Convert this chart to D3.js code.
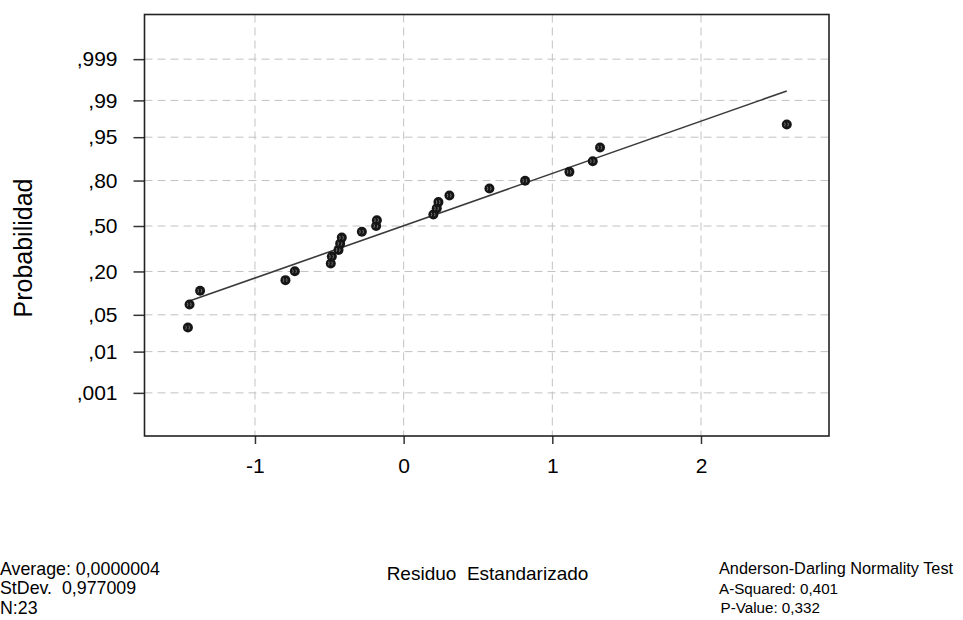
<!DOCTYPE html>
<html>
<head>
<meta charset="utf-8">
<script src="https://cdn.jsdelivr.net/npm/d3@7"></script>
<style>
  body { margin: 0; background: #fff; }
  svg { font-family: "Liberation Sans", Arial, sans-serif; }
</style>
</head>
<body>
<svg id="chart"></svg>
<script>
const SVG_WIDTH = 963;
const SVG_HEIGHT = 620;

// standardized residuals (sorted) and their plotted probabilities
const residuals = [-1.451, -1.440, -1.369, -0.795, -0.732, -0.490, -0.483, -0.438, -0.427, -0.416,
  -0.281, -0.185, -0.180, 0.200, 0.223, 0.234, 0.308, 0.577, 0.817, 1.115, 1.272, 1.321, 2.577];
const probs = [0.030, 0.073, 0.115, 0.158, 0.201, 0.244, 0.286, 0.329, 0.372, 0.415,
  0.457, 0.500, 0.543, 0.585, 0.628, 0.671, 0.714, 0.756, 0.799, 0.842, 0.885, 0.927, 0.970];

// fitted line end points (residual, probability)
const lineX = [-1.451, 2.577];
const lineP = [0.0808, 0.9938];

const yTickProbs = [0.001, 0.01, 0.05, 0.20, 0.50, 0.80, 0.95, 0.99, 0.999];
const yTickLabels = [",001", ",01", ",05", ",20", ",50", ",80", ",95", ",99", ",999"];
const xTicks = [-1, 0, 1, 2];

const statsLeft = ["Average: 0,0000004", "StDev.  0,977009", "N:23"];
const statsRight = ["Anderson-Darling Normality Test", "A-Squared: 0,401", "P-Value: 0,332"];

// inverse normal cdf (Acklam)
function probit(p) {
  const a = [-39.69683028665376, 220.9460984245205, -275.9285104469687, 138.3577518672690, -30.66479806614716, 2.506628277459239];
  const b = [-54.47609879822406, 161.5858368580409, -155.6989798598866, 66.80131188771972, -13.28068155288572];
  const c = [-0.007784894002430293, -0.3223964580411365, -2.400758277161838, -2.549732539343734, 4.374664141464968, 2.938163982698783];
  const d = [0.007784695709041462, 0.3224671290700398, 2.445134137142996, 3.754408661907416];
  const pl = 0.02425;
  let q, r;
  if (p < pl) {
    q = Math.sqrt(-2 * Math.log(p));
    return (((((c[0]*q+c[1])*q+c[2])*q+c[3])*q+c[4])*q+c[5]) / ((((d[0]*q+d[1])*q+d[2])*q+d[3])*q+1);
  } else if (p <= 1 - pl) {
    q = p - 0.5; r = q * q;
    return (((((a[0]*r+a[1])*r+a[2])*r+a[3])*r+a[4])*r+a[5])*q / (((((b[0]*r+b[1])*r+b[2])*r+b[3])*r+b[4])*r+1);
  }
  q = Math.sqrt(-2 * Math.log(1 - p));
  return -(((((c[0]*q+c[1])*q+c[2])*q+c[3])*q+c[4])*q+c[5]) / ((((d[0]*q+d[1])*q+d[2])*q+d[3])*q+1);
}

const plotLeft = 144.5, plotRight = 829, plotTop = 14.5, plotBottom = 436;
const FONT = "'Liberation Sans', Arial, sans-serif";

const svg = d3.select("#chart").attr("width", SVG_WIDTH).attr("height", SVG_HEIGHT);

const x = d3.scaleLinear().domain([-1.743, 2.861]).range([plotLeft, plotRight]);
const yz = d3.scaleLinear().domain([-3.889, 3.917]).range([plotBottom, plotTop]);
const y = p => yz(probit(p));

// grid
const grid = svg.append("g").attr("stroke", "#c2c2c2").attr("stroke-width", 1).attr("stroke-dasharray", "8,5");
grid.selectAll("line.h").data(yTickProbs).enter().append("line")
  .attr("x1", plotLeft).attr("x2", plotRight)
  .attr("y1", d => y(d)).attr("y2", d => y(d));
grid.selectAll("line.v").data(xTicks).enter().append("line")
  .attr("x1", d => x(d)).attr("x2", d => x(d))
  .attr("y1", plotTop).attr("y2", plotBottom);

// y axis
const yAxis = d3.axisLeft(yz)
  .tickValues(yTickProbs.map(probit))
  .tickFormat((d, i) => yTickLabels[i])
  .tickSize(11).tickPadding(16);
svg.append("g").attr("transform", `translate(${plotLeft},0)`).call(yAxis)
  .call(g => g.select(".domain").remove())
  .call(g => g.selectAll("line").attr("stroke", "#333").attr("stroke-width", 1.5))
  .call(g => g.selectAll("text").attr("font-size", 21).attr("fill", "#000").attr("font-family", FONT));

// x axis
const xAxis = d3.axisBottom(x).tickValues(xTicks).tickFormat(d => String(d))
  .tickSize(8).tickPadding(14);
svg.append("g").attr("transform", `translate(0,${plotBottom})`).call(xAxis)
  .call(g => g.select(".domain").remove())
  .call(g => g.selectAll("line").attr("stroke", "#333").attr("stroke-width", 1.5))
  .call(g => g.selectAll("text").attr("font-size", 21).attr("fill", "#000").attr("font-family", FONT));

// frame
svg.append("rect").attr("x", plotLeft).attr("y", plotTop)
  .attr("width", plotRight - plotLeft).attr("height", plotBottom - plotTop)
  .attr("fill", "none").attr("stroke", "#222").attr("stroke-width", 1.6);

// fitted line
svg.append("line")
  .attr("x1", x(lineX[0])).attr("y1", y(lineP[0]))
  .attr("x2", x(lineX[1])).attr("y2", y(lineP[1]))
  .attr("stroke", "#3a3a3a").attr("stroke-width", 1.6);

// points
const pts = svg.append("g").selectAll("g").data(residuals).enter().append("g")
  .attr("transform", (d, i) => `translate(${x(d)},${y(probs[i])})`);
pts.append("circle").attr("r", 5).attr("fill", "#161616");
pts.append("path").attr("d", "M-2.2,-1.8 Q-1,0 -2.2,1.8 M1,-1.8 Q2.2,0 1,1.8")
  .attr("stroke", "#8a8a8a").attr("stroke-width", 0.8).attr("fill", "none");

// titles
svg.append("text").attr("x", 487.5).attr("y", 580).attr("text-anchor", "middle")
  .attr("font-size", 19).attr("fill", "#000").attr("xml:space", "preserve")
  .text("Residuo  Estandarizado");
svg.append("text").attr("transform", "translate(32,248) rotate(-90)").attr("text-anchor", "middle")
  .attr("font-size", 25).attr("fill", "#000").text("Probabilidad");

// stats
svg.append("g").selectAll("text").data(statsLeft).enter().append("text")
  .attr("x", 0).attr("y", (d, i) => 574.5 + i * 19.5)
  .attr("font-size", 17.8).attr("fill", "#000").attr("xml:space", "preserve").text(d => d);
svg.append("g").selectAll("text").data(statsRight).enter().append("text")
  .attr("x", (d, i) => i === 2 ? 720.5 : 719).attr("y", (d, i) => 574 + i * 19.5)
  .attr("font-size", (d, i) => i === 0 ? 16.3 : 15.2).attr("fill", "#000").text(d => d);
</script>
</body>
</html>
